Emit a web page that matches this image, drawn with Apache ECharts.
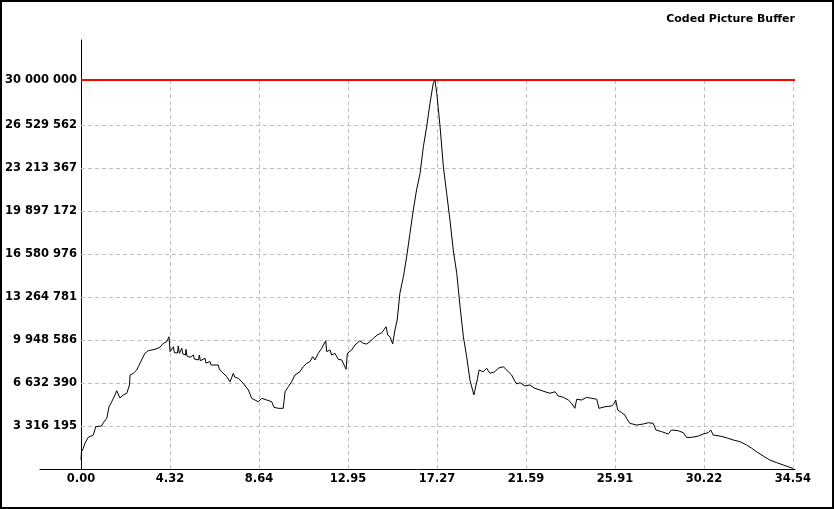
<!DOCTYPE html>
<html><head><meta charset="utf-8">
<script src="https://cdn.jsdelivr.net/npm/echarts@6/dist/echarts.min.js"></script>
<style>
html,body{margin:0;padding:0;background:#fff}
#c{width:835px;height:509px}
#f{position:absolute;left:0;top:0;width:834px;height:509px;border:2px solid #000;box-sizing:border-box;pointer-events:none}
</style>
</head><body><div id="c"></div><div id="f"></div>
<script>
const chartTitle = 'Coded Picture Buffer';
const bufferSize = 30000000;
const times = [0.00,0.02,0.11,0.19,0.24,0.35,0.60,0.71,1.00,1.08,1.25,1.36,1.49,1.65,1.73,1.89,2.05,2.22,2.27,2.35,2.38,2.54,2.70,2.78,2.94,3.10,3.26,3.59,3.83,3.99,4.16,4.27,
  4.32,4.41,4.48,4.53,4.68,4.72,4.77,4.89,4.94,5.07,5.09,5.14,5.29,5.45,5.50,5.70,5.74,5.79,5.86,6.02,6.06,6.26,6.31,6.42,6.66,6.71,6.83,7.07,7.23,7.39,7.45,7.63,7.87,8.12,8.28,8.44,8.60,
  8.77,9.01,9.25,9.36,9.57,9.81,9.90,10.06,10.22,10.38,10.62,10.78,10.95,11.11,11.24,11.35,11.51,11.68,11.87,11.92,12.08,12.16,12.32,12.48,12.65,12.86,12.92,13.13,13.29,13.53,13.69,13.86,14.02,14.18,14.37,14.59,14.80,14.88,14.99,15.12,15.23,15.34,
  15.47,15.64,15.80,15.96,16.12,16.28,16.45,16.61,16.77,16.93,17.09,17.17,17.26,17.42,17.58,17.74,17.90,18.06,18.23,18.39,18.55,18.71,18.87,19.06,19.11,
  19.24,19.31,19.52,19.68,19.84,20.08,20.24,20.49,20.73,20.89,21.02,21.14,21.30,21.54,21.78,22.02,22.27,22.51,22.75,23.00,23.15,23.40,23.64,23.80,23.96,24.05,24.29,24.53,24.78,25.02,25.13,25.42,25.75,25.87,25.94,26.04,26.23,26.39,
  26.47,26.63,26.96,27.28,27.52,27.76,27.89,28.17,28.49,28.65,28.98,29.22,29.38,29.63,29.95,30.19,30.43,30.55,30.67,31.00,31.32,31.64,31.97,32.29,32.54,32.78,33.10,33.42,33.75,34.07,34.39,34.54];
const level = [0.69e6,1.33e6,1.59e6,1.98e6,2.11e6,2.44e6,2.62e6,3.26e6,3.32e6,3.57e6,3.91e6,4.80e6,5.19e6,5.71e6,6.04e6,5.48e6,5.71e6,5.84e6,5.88e6,6.48e6,7.25e6,7.38e6,7.63e6,7.89e6,8.41e6,8.92e6,9.12e6,9.23e6,9.39e6,9.69e6,9.82e6,10.20e6,
  9.05e6,8.97e6,9.43e6,8.97e6,8.95e6,9.49e6,8.92e6,9.31e6,8.87e6,8.79e6,9.23e6,8.72e6,8.61e6,8.79e6,8.48e6,8.41e6,8.79e6,8.35e6,8.28e6,8.54e6,8.17e6,8.28e6,8.02e6,8.02e6,8.02e6,7.71e6,7.50e6,7.12e6,6.73e6,7.38e6,7.10e6,6.99e6,6.61e6,6.09e6,5.45e6,5.32e6,5.19e6,
  5.45e6,5.32e6,5.19e6,4.76e6,4.68e6,4.68e6,5.96e6,6.35e6,6.73e6,7.25e6,7.50e6,7.89e6,8.15e6,8.28e6,8.66e6,8.41e6,8.92e6,9.31e6,9.89e6,9.05e6,9.18e6,8.79e6,8.92e6,8.46e6,8.41e6,7.69e6,8.92e6,9.18e6,9.56e6,9.89e6,9.69e6,9.64e6,9.82e6,10.08e6,10.33e6,10.51e6,10.97e6,10.33e6,10.20e6,9.64e6,10.72e6,11.49e6,
  13.55e6,14.83e6,16.37e6,18.18e6,19.97e6,21.52e6,22.80e6,24.86e6,26.40e6,28.20e6,29.75e6,30.00e6,28.97e6,26.40e6,23.31e6,21.26e6,19.20e6,16.89e6,15.09e6,12.52e6,10.20e6,8.66e6,6.86e6,5.71e6,5.71e6,
  7.00e6,7.63e6,7.50e6,7.77e6,7.38e6,7.50e6,7.77e6,7.89e6,7.50e6,7.25e6,6.86e6,6.56e6,6.66e6,6.40e6,6.48e6,6.22e6,6.09e6,5.96e6,5.84e6,5.96e6,5.63e6,5.53e6,5.32e6,5.07e6,4.68e6,5.38e6,5.32e6,5.53e6,5.45e6,5.38e6,4.68e6,4.80e6,4.86e6,5.07e6,5.32e6,4.55e6,4.34e6,4.16e6,
  3.91e6,3.52e6,3.39e6,3.47e6,3.57e6,3.52e6,3.01e6,2.88e6,2.70e6,3.01e6,2.95e6,2.80e6,2.44e6,2.44e6,2.54e6,2.70e6,2.80e6,3.01e6,2.62e6,2.54e6,2.41e6,2.24e6,2.11e6,1.85e6,1.60e6,1.33e6,1.00e6,0.69e6,0.49e6,0.31e6,0.13e6,0.05e6];
const xTickValues = [0, 4.3175, 8.635, 12.9525, 17.27, 21.5875, 25.905, 30.2225, 34.54];
const xTickLabels = ['0.00','4.32','8.64','12.95','17.27','21.59','25.91','30.22','34.54'];
const yTickValues = [3316195.25, 6632390.5, 9948585.75, 13264781, 16580976.25, 19897171.5, 23213366.75, 26529562, 30000000];
const yTickLabels = ['3 316 195','6 632 390','9 948 586','13 264 781','16 580 976','19 897 172','23 213 367','26 529 562','30 000 000'];

const X_MIN = -1.99, X_MAX = 34.64, Y_MAX = 33085000;
const FONT = 'DejaVu Sans';
const gridStyle = {color:'#c0c0c0', width:1, type:[4,3]};

const data = times.map((t,i)=>[t, level[i]]);
const gridLines = [];
xTickValues.slice(1).forEach(v => gridLines.push([{coord:[v,0]},{coord:[v,bufferSize]}]));
yTickValues.slice(0,8).forEach(v => gridLines.push([{coord:[0,v]},{coord:[X_MAX,v]}]));

function nearestLabel(values, labels, v, tol){
  for (let i=0;i<values.length;i++) if (Math.abs(values[i]-v) < tol) return labels[i];
  return '';
}

const chart = echarts.init(document.getElementById('c'), null, {renderer:'canvas'});
chart.setOption({
  animation:false,
  backgroundColor:'#fff',
  title:{text:chartTitle, right:40, top:14, padding:0, textStyle:{fontFamily:FONT, fontSize:11, fontWeight:'bold', color:'#000'}},
  grid:{left:40, right:40, top:40, bottom:40, containLabel:false, outerBoundsMode:'none'},
  xAxis:{type:'value', min:X_MIN, max:X_MAX,
    axisLine:{show:true, onZero:false, lineStyle:{color:'#000', width:1}},
    axisTick:{show:false}, splitLine:{show:false},
    axisLabel:{customValues:xTickValues, margin:4, color:'#000', fontFamily:FONT, fontSize:11.5, fontWeight:'bold',
      formatter:v=>nearestLabel(xTickValues, xTickLabels, v, 0.01)}},
  yAxis:{type:'value', min:0, max:Y_MAX, offset:-41,
    axisLine:{show:true, onZero:false, lineStyle:{color:'#000', width:1}},
    axisTick:{show:false}, splitLine:{show:false},
    axisLabel:{customValues:yTickValues, margin:4, color:'#000', fontFamily:FONT, fontSize:11.5, fontWeight:'bold',
      formatter:v=>nearestLabel(yTickValues, yTickLabels, v, 10)}},
  series:[
    {type:'line', data:[], silent:true,
      markLine:{silent:true, symbol:['none','none'], label:{show:false}, lineStyle:gridStyle, data:gridLines}},
    {type:'line', data:[], silent:true,
      markLine:{silent:true, symbol:['none','none'], label:{show:false}, lineStyle:{color:'#ff0000', width:2, type:'solid'},
        data:[[{coord:[0,bufferSize]},{coord:[X_MAX,bufferSize]}]]}},
    {type:'line', data:data, z:10, showSymbol:false, lineStyle:{color:'#000', width:1}}
  ]
});
</script></body></html>
